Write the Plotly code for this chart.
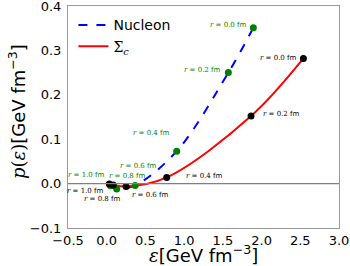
import plotly.graph_objects as go

radii = ["1.0", "0.8", "0.6", "0.4", "0.2", "0.0"]
nuc_eps = [0.05, 0.129, 0.367, 0.904, 1.571, 1.894]
nuc_p = [-0.005, -0.012, -0.004, 0.073, 0.250, 0.351]
sig_eps = [0.034, 0.085, 0.25, 0.775, 1.864, 2.54]
sig_p = [-0.001, -0.003, -0.0065, 0.014, 0.152, 0.282]

x_ticks = [-0.5, 0.0, 0.5, 1.0, 1.5, 2.0, 2.5, 3.0]
y_ticks = [-0.1, 0.0, 0.1, 0.2, 0.3, 0.4]

# label offsets (pixels) per point: (xanchor, xshift, yshift)
nuc_lab = [("right", -4, 11), ("left", -10, 13), ("center", 3, 19),
           ("right", -5, 18), ("right", -5, 3), ("right", -4, 3)]
sig_lab = [("right", -3, -7), ("right", 10, -14), ("left", 4, -9),
           ("left", 17, 1), ("left", 10, 2), ("right", -4, 0)]

SERIF = "DejaVu Serif"
SANS = "DejaVu Sans"

fig = go.Figure()
fig.add_trace(go.Scatter(x=nuc_eps, y=nuc_p, mode="lines", name="Nucleon",
                         line=dict(color="blue", width=2, dash="dash", shape="spline")))
fig.add_trace(go.Scatter(x=sig_eps, y=sig_p, mode="lines",
                         name=f"<span style=\"font-family:'{SERIF}'\">Σ<sub><i>c</i></sub></span>",
                         line=dict(color="red", width=2, shape="spline")))
fig.add_trace(go.Scatter(x=nuc_eps, y=nuc_p, mode="markers", showlegend=False,
                         marker=dict(color="green", size=7)))
fig.add_trace(go.Scatter(x=sig_eps, y=sig_p, mode="markers", showlegend=False,
                         marker=dict(color="black", size=7)))

def lab(r):
    return (f"<span style=\"font-family:'{SERIF}'\"><i>r</i> = {r}</span> fm")

for xs, ys, labs, col in [(nuc_eps, nuc_p, nuc_lab, "green"),
                          (sig_eps, sig_p, sig_lab, "black")]:
    for r, x, y, (xa, xs_, ys_) in zip(radii, xs, ys, labs):
        fig.add_annotation(x=x, y=y, text=lab(r), showarrow=False,
                           xanchor=xa, yanchor="middle", xshift=xs_, yshift=ys_,
                           font=dict(size=7, color=col, family=SANS))

fig.add_hline(y=0, line=dict(color="grey", width=1.2))

axis_common = dict(showgrid=False, zeroline=False, showline=True, linecolor="#999",
                   linewidth=1, mirror=True, ticks="", ticklabeloverflow="allow",
                   automargin=False,
                   tickfont=dict(size=13, family=SANS, color="black"))

fig.update_xaxes(range=[-0.5, 3.0], tickvals=x_ticks,
                 ticktext=[f"{v:.1f}".replace("-", "−") for v in x_ticks],
                 ticklabelstandoff=0, **axis_common)
fig.update_yaxes(range=[-0.1, 0.4], tickvals=y_ticks,
                 ticktext=[f"{v:.1f}".replace("-", "−") for v in y_ticks],
                 ticklabelstandoff=3, **axis_common)

fig.add_annotation(xref="paper", yref="paper", x=0.5, y=0, xanchor="center", yanchor="middle",
                   yshift=-26, showarrow=False,
                   text=f"<span style=\"font-family:'{SERIF}'\"><i>ε</i></span>[GeV fm<sup>−3</sup>]",
                   font=dict(size=18, family=SANS, color="black"))
fig.add_annotation(xref="paper", yref="paper", x=0, y=0.5, xanchor="center", yanchor="middle",
                   xshift=-51, yshift=5, textangle=-90, showarrow=False,
                   text=f"<span style=\"font-family:'{SERIF}'\"><i>p</i>(<i>ε</i>)</span>[GeV fm<sup>−3</sup>]",
                   font=dict(size=18, family=SANS, color="black"))

fig.update_layout(width=350, height=266, plot_bgcolor="white", paper_bgcolor="white",
                  margin=dict(l=68, r=11, t=6, b=38),
                  legend=dict(x=0.02, y=0.985, xanchor="left", yanchor="top",
                              bgcolor="rgba(255,255,255,0)", font=dict(size=14, family=SANS, color="black"),
                              tracegroupgap=0, itemwidth=30))

fig.write_html("out.html", config={"displayModeBar": False},
               post_script="document.body.style.margin='0';document.body.style.overflow='hidden';")
